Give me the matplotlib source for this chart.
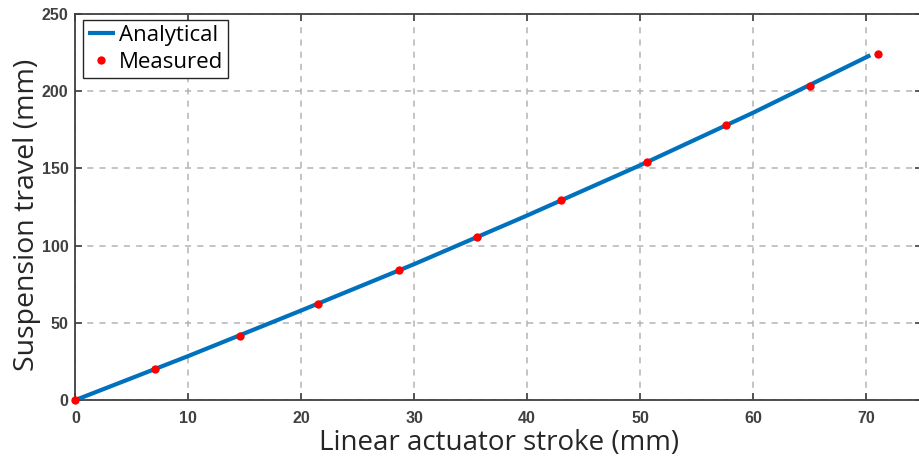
import matplotlib
matplotlib.use("Agg")
import matplotlib.pyplot as plt

# Analytical relation between actuator stroke and suspension travel
analytical_stroke = [0, 10, 20, 30, 40, 50, 60, 70.4]
analytical_travel = [0, 28.5, 58, 88, 119.5, 152, 186, 223.3]

# Measured points
measured_stroke = [0, 7.0, 14.6, 21.5, 28.65, 35.6, 43.0, 50.6, 57.6, 65.05, 71.05]
measured_travel = [0, 20.0, 41.6, 62.2, 84.2, 105.8, 129.5, 154.3, 178.1, 203.6, 223.9]

x_ticks = [0, 10, 20, 30, 40, 50, 60, 70]
y_ticks = [0, 50, 100, 150, 200, 250]

W, H = 920, 463
fig = plt.figure(figsize=(W / 100, H / 100), dpi=100)
px_per_unit = 11.29
ax = fig.add_axes([75.5 / W, (H - 400) / H, 75 * px_per_unit / W, 386 / H])

ax.plot(analytical_stroke, analytical_travel, color="#0072BD", lw=3.0,
        solid_capstyle="butt", label="Analytical", zorder=3)
ax.plot(measured_stroke, measured_travel, linestyle="none", marker="o",
        markersize=6, color="#FF0000", markeredgewidth=0, label="Measured",
        zorder=4, clip_on=False)

ax.set_xlim(0, 75)
ax.set_ylim(0, 250)
ax.set_xticks(x_ticks)
ax.set_yticks(y_ticks)

tick_font = dict(family="Liberation Sans", weight="bold", size=11.5)
ax.set_xticklabels([str(v) for v in x_ticks], fontdict=tick_font, color="#262626")
ax.set_yticklabels([str(v) for v in y_ticks], fontdict=tick_font, color="#262626")
ax.tick_params(direction="in", length=5, width=1.2, colors="#404040",
               top=True, right=True)
ax.tick_params(axis="y", pad=5)
ax.tick_params(axis="x", pad=8)

for s in ax.spines.values():
    s.set_color("#404040")
    s.set_linewidth(1.3)

ax.grid(True, linestyle=(0, (4, 4)), color="#b4b4b4", linewidth=1.1)
ax.set_axisbelow(True)

ax.set_xlabel("Linear actuator stroke (mm)", family="Open Sans", size=20,
              color="#262626", labelpad=2)
ax.set_ylabel("Suspension travel (mm)", family="Open Sans", size=20.5,
              color="#262626")
ax.yaxis.set_label_coords(-0.041, 0.48)

leg = ax.legend(loc="upper left", bbox_to_anchor=(0.009, 0.985),
                prop=dict(family="Open Sans", size=16), handlelength=1.2,
                handletextpad=0.2, borderpad=0.22, labelspacing=0.28,
                borderaxespad=0, fancybox=False, framealpha=1)
leg.get_frame().set_edgecolor("#262626")
leg.get_frame().set_linewidth(1.0)
for h in leg.legend_handles:
    if hasattr(h, "set_markersize"):
        h.set_markersize(6)

fig.savefig("out.png", dpi=100)
